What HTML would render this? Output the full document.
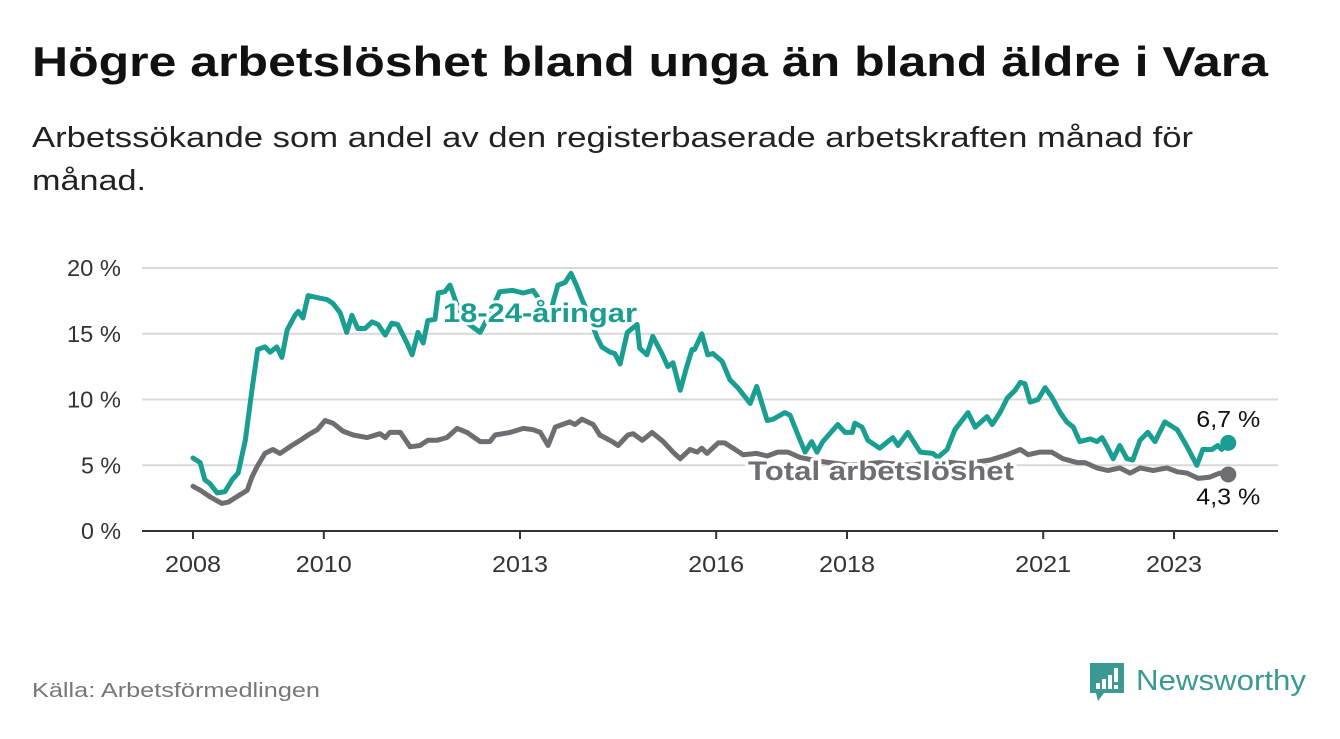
<!DOCTYPE html>
<html><head><meta charset="utf-8"><style>
body{margin:0;background:#fff;width:1340px;height:734px;overflow:hidden;font-family:"Liberation Sans","DejaVu Sans",sans-serif;}
</style></head><body>
<svg width="1340" height="734" viewBox="0 0 1340 734" xmlns="http://www.w3.org/2000/svg">
<text x="32" y="76" font-size="42" font-weight="bold" fill="#111" textLength="1236" lengthAdjust="spacingAndGlyphs">Högre arbetslöshet bland unga än bland äldre i Vara</text>
<text x="32" y="147" font-size="29" fill="#222" textLength="1161" lengthAdjust="spacingAndGlyphs">Arbetssökande som andel av den registerbaserade arbetskraften månad för</text>
<text x="32" y="190" font-size="29" fill="#222" textLength="114" lengthAdjust="spacingAndGlyphs">månad.</text>
<g id="grid"></g>
<g id="lines"></g>
<g id="labels"></g>
<text x="32" y="697" font-size="20" fill="#777" textLength="288" lengthAdjust="spacingAndGlyphs">Källa: Arbetsförmedlingen</text>
<g>
<path d="M1090 663 h34 v30 h-20 l-6 8 l-2 -8 h-6 z" fill="#3a9a92"/>
<rect x="1096" y="683" width="4" height="6" fill="#fff"/><rect x="1102" y="679" width="4" height="10" fill="#fff"/><rect x="1108" y="675" width="4" height="14" fill="#fff"/><rect x="1114" y="668" width="4" height="14" fill="#fff"/><rect x="1114" y="685" width="4" height="4" fill="#fff"/>
<text x="1136" y="690" font-size="29" fill="#3a9a92" textLength="170" lengthAdjust="spacingAndGlyphs">Newsworthy</text>
</g>
</svg>
<script>
const yTicks=[0,5,10,15,20];
const xTickYears=[2008,2010,2013,2016,2018,2021,2023];
const youthDates=[2008.0,2008.11,2008.18,2008.26,2008.37,2008.49,2008.60,2008.69,2008.80,2008.90,2008.99,2009.10,2009.18,2009.28,2009.36,2009.44,2009.56,2009.61,2009.68,2009.76,2009.94,2010.05,2010.14,2010.25,2010.35,2010.43,2010.52,2010.63,2010.74,2010.83,2010.94,2011.04,2011.13,2011.27,2011.35,2011.44,2011.52,2011.59,2011.70,2011.75,2011.85,2011.93,2012.05,2012.20,2012.39,2012.54,2012.69,2012.89,2013.05,2013.20,2013.31,2013.43,2013.58,2013.69,2013.78,2013.87,2013.95,2014.07,2014.18,2014.25,2014.38,2014.45,2014.53,2014.64,2014.79,2014.83,2014.94,2015.03,2015.17,2015.26,2015.34,2015.45,2015.55,2015.63,2015.67,2015.78,2015.87,2015.95,2016.09,2016.21,2016.33,2016.52,2016.62,2016.78,2016.87,2017.05,2017.13,2017.25,2017.36,2017.46,2017.54,2017.63,2017.86,2017.97,2018.08,2018.12,2018.23,2018.32,2018.50,2018.70,2018.78,2018.93,2019.12,2019.31,2019.39,2019.53,2019.65,2019.85,2019.96,2020.14,2020.22,2020.34,2020.45,2020.57,2020.65,2020.72,2020.80,2020.92,2021.03,2021.13,2021.26,2021.36,2021.46,2021.56,2021.72,2021.82,2021.90,2021.99,2022.07,2022.17,2022.28,2022.37,2022.48,2022.60,2022.71,2022.86,2023.05,2023.20,2023.35,2023.44,2023.58,2023.67,2023.73,2023.83];
const youthValues=[5.55,5.2,3.9,3.6,2.9,3.0,3.9,4.4,6.9,10.7,13.8,14.0,13.6,14.0,13.2,15.3,16.4,16.7,16.2,17.9,17.7,17.6,17.3,16.6,15.1,16.4,15.4,15.4,15.9,15.7,14.9,15.8,15.7,14.3,13.4,15.1,14.3,16.0,16.1,18.1,18.2,18.7,17.0,15.8,15.1,16.5,18.2,18.3,18.1,18.3,17.5,16.0,18.7,18.9,19.6,18.6,17.6,16.2,14.7,14.0,13.6,13.5,12.7,15.1,15.7,13.9,13.4,14.8,13.5,12.5,12.8,10.7,12.5,13.8,13.8,15.0,13.4,13.5,12.9,11.5,10.9,9.7,11.0,8.4,8.5,9.0,8.8,7.3,6.0,6.8,6.0,6.8,8.1,7.5,7.5,8.2,7.9,6.9,6.3,7.1,6.5,7.5,6.0,5.9,5.6,6.2,7.7,9.0,7.9,8.7,8.1,9.0,10.1,10.7,11.3,11.2,9.8,10.0,10.9,10.2,9.0,8.3,7.9,6.8,7.0,6.8,7.1,6.3,5.5,6.5,5.5,5.4,6.9,7.5,6.8,8.3,7.7,6.4,5.0,6.2,6.2,6.5,6.2,6.7];
const totalDates=[2008.0,2008.11,2008.26,2008.44,2008.54,2008.67,2008.83,2008.90,2008.98,2009.10,2009.22,2009.33,2009.51,2009.64,2009.76,2009.90,2010.02,2010.14,2010.29,2010.45,2010.66,2010.86,2010.94,2011.01,2011.17,2011.32,2011.47,2011.59,2011.73,2011.88,2012.04,2012.19,2012.39,2012.54,2012.62,2012.85,2013.05,2013.20,2013.31,2013.43,2013.54,2013.76,2013.84,2013.95,2014.12,2014.22,2014.41,2014.50,2014.65,2014.73,2014.87,2015.02,2015.19,2015.34,2015.45,2015.60,2015.71,2015.78,2015.86,2016.03,2016.13,2016.26,2016.41,2016.62,2016.78,2016.94,2017.10,2017.28,2017.59,2018.05,2018.50,2018.96,2019.42,2019.80,2020.19,2020.45,2020.65,2020.77,2020.95,2021.13,2021.30,2021.52,2021.64,2021.82,2021.99,2022.17,2022.33,2022.48,2022.68,2022.89,2023.05,2023.20,2023.37,2023.55,2023.70,2023.83];
const totalValues=[3.4,3.1,2.6,2.1,2.2,2.6,3.1,4.1,4.9,5.9,6.2,5.9,6.5,6.9,7.3,7.7,8.4,8.2,7.6,7.3,7.1,7.4,7.1,7.5,7.5,6.4,6.5,6.9,6.9,7.1,7.8,7.5,6.8,6.8,7.3,7.5,7.8,7.7,7.5,6.5,7.9,8.3,8.1,8.5,8.1,7.3,6.8,6.5,7.3,7.4,6.9,7.5,6.8,6.0,5.5,6.2,6.0,6.3,5.9,6.7,6.7,6.3,5.8,5.9,5.7,6.0,6.0,5.6,5.3,5.0,5.2,5.0,5.3,5.1,5.4,5.8,6.2,5.8,6.0,6.0,5.5,5.2,5.2,4.8,4.6,4.8,4.4,4.8,4.6,4.8,4.5,4.4,4.0,4.1,4.4,4.3];
const NS="http://www.w3.org/2000/svg";
const X0=193, PXY=65.4, Y0=531, PXP=13.15;
const xS=t=>X0+(t-2008)*PXY;
const yS=v=>Y0-v*PXP;
function mk(tag,attrs,parent){const e=document.createElementNS(NS,tag);for(const k in attrs)e.setAttribute(k,attrs[k]);parent.appendChild(e);return e;}
const grid=document.getElementById('grid');
yTicks.forEach(v=>{
  if(v>0){const l=mk('line',{x1:142,x2:1278,y1:yS(v),y2:yS(v),stroke:'#d9d9d9','stroke-width':2},grid);
  
  }
  const t=mk('text',{x:121,y:yS(v)+8,'font-size':23,fill:'#333','text-anchor':'end',textLength:(v>=10?54:40),lengthAdjust:'spacingAndGlyphs'},grid);
  t.textContent=v+' %';
  
  
});
const ax=mk('line',{x1:142,x2:1278,y1:Y0,y2:Y0,stroke:'#333','stroke-width':2},grid);


xTickYears.forEach(yr=>{
  const x=xS(yr);
  const tk=mk('line',{x1:x,x2:x,y1:Y0,y2:Y0+8,stroke:'#333','stroke-width':2},grid);
  
  
  const t=mk('text',{x:x,y:572,'font-size':23,fill:'#333','text-anchor':'middle',textLength:56,lengthAdjust:'spacingAndGlyphs'},grid);
  t.textContent=yr;
  
  
});
const lines=document.getElementById('lines');
function drawLine(dates,vals,color,name){
  const d=dates.map((t,i)=>(i?'L':'M')+xS(t).toFixed(1)+' '+yS(vals[i]).toFixed(1)).join(' ');
  const p=mk('path',{d:d,fill:'none',stroke:color,'stroke-width':5,'stroke-linejoin':'round','stroke-linecap':'round'},lines);
  
  
  const n=dates.length-1;
  const c=mk('circle',{cx:xS(dates[n]),cy:yS(vals[n]),r:8,fill:color},lines);
  
  
  return [xS(dates[n]),yS(vals[n]),vals[n]];
}
const te=drawLine(totalDates,totalValues,'#6e6d72','total');
const ye=drawLine(youthDates,youthValues,'#1a9e92','youth');
const labels=document.getElementById('labels');
function lbl(x,y,txt,col,size,weight,anchor,name,halo,len){
  const t=mk('text',{x:x,y:y,'font-size':size,'font-weight':weight,fill:col,'text-anchor':anchor,textLength:len,lengthAdjust:'spacingAndGlyphs'},labels);
  if(halo){t.setAttribute('stroke','#fff');t.setAttribute('stroke-width',6);t.setAttribute('paint-order','stroke');t.setAttribute('stroke-linejoin','round');}
  t.textContent=txt;
  
  
}
lbl(540,322,'18-24-åringar','#1a9e92',27,'bold','middle','youth-series-label',true,194);
lbl(881,480,'Total arbetslöshet','#6e6d72',27,'bold','middle','total-series-label',true,266);
lbl(ye[0],ye[1]-16,ye[2].toFixed(1).replace('.',',')+' %','#111',23,'normal','middle','youth-end-value',true,64);
lbl(te[0],te[1]+30,te[2].toFixed(1).replace('.',',')+' %','#111',23,'normal','middle','total-end-value',true,64);
</script>
</body></html>
